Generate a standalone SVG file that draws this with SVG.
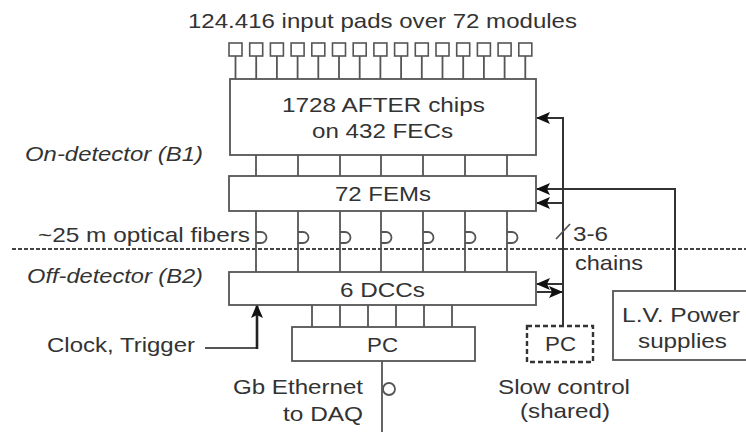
<svg xmlns="http://www.w3.org/2000/svg" width="746" height="432" viewBox="0 0 746 432">
<defs>
<style>
text{font-family:"Liberation Sans",Arial,sans-serif;font-size:21px;fill:#333}
.it{font-style:italic}
.box{fill:#fff;stroke:#555;stroke-width:1.8}
.dbox{fill:#fff;stroke:#333;stroke-width:2.4;stroke-dasharray:5,3}
.ln{fill:none;stroke:#555;stroke-width:1.8}
.hl{fill:none;stroke:#333;stroke-width:2}
.pad{fill:#fff;stroke:#555;stroke-width:1.6}
</style>
<marker id="ah" viewBox="0 0 14 12" refX="13" refY="6" markerWidth="14" markerHeight="12" markerUnits="userSpaceOnUse" orient="auto">
<path d="M0,0 L14,6 L0,12 L3,6 Z" fill="#111"/>
</marker>
</defs>
<rect width="746" height="432" fill="#fff"/>

<g id="connectors">
<!-- dashed boundary -->
<line x1="12" y1="249" x2="746" y2="249" stroke="#444" stroke-width="2" stroke-dasharray="4,2"/>
<!-- pad stems -->
<path class="ln" d="M235.5,56V79 M256.2,56V79 M276.9,56V79 M297.6,56V79 M318.3,56V79 M339,56V79 M359.7,56V79 M380.4,56V79 M401.1,56V79 M421.8,56V79 M442.5,56V79 M463.2,56V79 M483.9,56V79 M504.6,56V79 M525.3,56V79"/>
<!-- AFTER to FEMs -->
<path class="ln" d="M256,155V176 M298,155V176 M340,155V176 M381,155V176 M423,155V176 M465,155V176 M507,155V176"/>
<!-- FEMs to DCCs (fibers) -->
<path class="ln" d="M256,211V272 M298,211V272 M340,211V272 M381,211V272 M423,211V272 M465,211V272 M507,211V272"/>
<path class="ln" stroke-width="1.5" d="M256,232h5a5.5,5.5 0 0 1 0,11h-5 M298,232h5a5.5,5.5 0 0 1 0,11h-5 M340,232h5a5.5,5.5 0 0 1 0,11h-5 M381,232h5a5.5,5.5 0 0 1 0,11h-5 M423,232h5a5.5,5.5 0 0 1 0,11h-5 M465,232h5a5.5,5.5 0 0 1 0,11h-5 M507,232h5a5.5,5.5 0 0 1 0,11h-5"/>
<!-- DCCs to PC -->
<path class="ln" d="M312,305V327 M340,305V327 M368,305V327 M396,305V327 M424,305V327 M452,305V327"/>
<!-- Ethernet -->
<line class="ln" x1="382" y1="361" x2="382" y2="432"/>
<circle cx="389" cy="389" r="6" class="ln" stroke-width="1.5"/>
<!-- slow control chain -->
<line class="hl" x1="563" y1="117" x2="563" y2="326"/>
<line class="hl" x1="563" y1="118" x2="537" y2="118" marker-end="url(#ah)"/>
<line class="hl" x1="563" y1="203" x2="537" y2="203" marker-end="url(#ah)"/>
<line class="hl" x1="563" y1="284" x2="537" y2="284" marker-end="url(#ah)"/>
<line class="hl" x1="537" y1="292" x2="562" y2="292" marker-end="url(#ah)"/>
<line class="ln" x1="556" y1="239" x2="570" y2="224"/>
<!-- power -->
<path class="hl" d="M675,291V189H537" marker-end="url(#ah)"/>
<!-- clock trigger -->
<path class="ln" d="M205,348H257"/>
<line x1="257" y1="349" x2="257" y2="305" stroke="#222" stroke-width="2.6" marker-end="url(#ah)"/>
</g>

<g id="title">
<text x="188" y="28" textLength="389" lengthAdjust="spacingAndGlyphs">124.416 input pads over 72 modules</text>
</g>

<g id="pads">
<rect class="pad" x="229" y="43" width="13" height="13"/>
<rect class="pad" x="249.7" y="43" width="13" height="13"/>
<rect class="pad" x="270.4" y="43" width="13" height="13"/>
<rect class="pad" x="291.1" y="43" width="13" height="13"/>
<rect class="pad" x="311.8" y="43" width="13" height="13"/>
<rect class="pad" x="332.5" y="43" width="13" height="13"/>
<rect class="pad" x="353.2" y="43" width="13" height="13"/>
<rect class="pad" x="373.9" y="43" width="13" height="13"/>
<rect class="pad" x="394.6" y="43" width="13" height="13"/>
<rect class="pad" x="415.3" y="43" width="13" height="13"/>
<rect class="pad" x="436" y="43" width="13" height="13"/>
<rect class="pad" x="456.7" y="43" width="13" height="13"/>
<rect class="pad" x="477.4" y="43" width="13" height="13"/>
<rect class="pad" x="498.1" y="43" width="13" height="13"/>
<rect class="pad" x="518.8" y="43" width="13" height="13"/>
</g>

<g id="after">
<rect class="box" x="230" y="79" width="306" height="76"/>
<text x="282" y="112" textLength="203" lengthAdjust="spacingAndGlyphs">1728 AFTER chips</text>
<text x="312" y="138" textLength="141" lengthAdjust="spacingAndGlyphs">on 432 FECs</text>
</g>

<g id="fems">
<rect class="box" x="229" y="176" width="307" height="35"/>
<text x="335" y="201" textLength="96" lengthAdjust="spacingAndGlyphs">72 FEMs</text>
</g>

<g id="dccs">
<rect class="box" x="229" y="272" width="307" height="33"/>
<text x="340" y="297" textLength="85" lengthAdjust="spacingAndGlyphs">6 DCCs</text>
</g>

<g id="pc">
<rect class="box" x="292" y="327" width="183" height="34"/>
<text x="367" y="352" textLength="31" lengthAdjust="spacingAndGlyphs">PC</text>
</g>

<g id="slow-pc">
<rect class="dbox" x="527" y="326" width="66" height="36"/>
<text x="545" y="351" textLength="31" lengthAdjust="spacingAndGlyphs">PC</text>
<text x="498" y="394" textLength="132" lengthAdjust="spacingAndGlyphs">Slow control</text>
<text x="520" y="418" textLength="90" lengthAdjust="spacingAndGlyphs">(shared)</text>
</g>

<g id="power">
<rect class="box" x="613" y="291" width="145" height="69"/>
<text x="622" y="322" textLength="118" lengthAdjust="spacingAndGlyphs">L.V. Power</text>
<text x="638" y="348" textLength="89" lengthAdjust="spacingAndGlyphs">supplies</text>
</g>

<g id="labels">
<text class="it" x="25" y="161" textLength="178" lengthAdjust="spacingAndGlyphs">On-detector (B1)</text>
<text x="38" y="242" textLength="212" lengthAdjust="spacingAndGlyphs">~25 m optical fibers</text>
<text class="it" x="27" y="283" textLength="176" lengthAdjust="spacingAndGlyphs">Off-detector (B2)</text>
<text x="47" y="352" textLength="148" lengthAdjust="spacingAndGlyphs">Clock, Trigger</text>
<text x="233" y="394" textLength="130" lengthAdjust="spacingAndGlyphs">Gb Ethernet</text>
<text x="283" y="421" textLength="80" lengthAdjust="spacingAndGlyphs">to DAQ</text>
<text x="573" y="241" textLength="35" lengthAdjust="spacingAndGlyphs">3-6</text>
<text x="575" y="270" textLength="68" lengthAdjust="spacingAndGlyphs">chains</text>
</g>
</svg>
